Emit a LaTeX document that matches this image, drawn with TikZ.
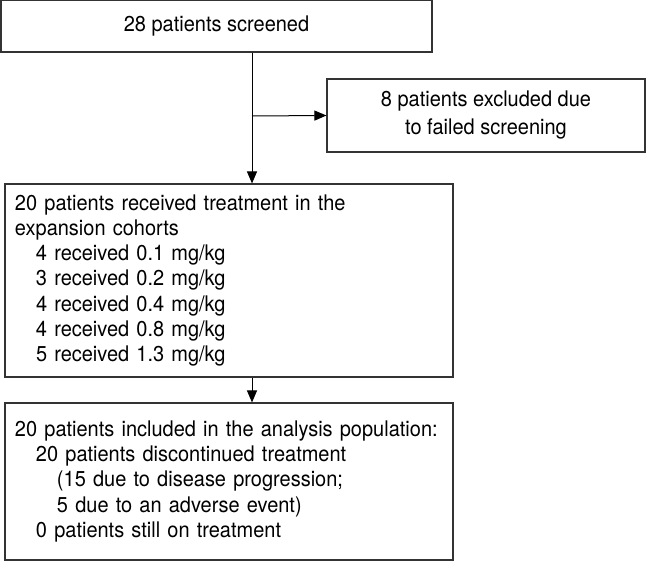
\documentclass[tikz,border=0pt]{standalone}
\usepackage{fontspec}
\setmainfont[FakeStretch=0.93]{TeX Gyre Heros}
\usetikzlibrary{arrows.meta}

\begin{document}
\begin{tikzpicture}[x=1pt,y=1pt,
        box/.style={draw=black!80, line width=1.1pt, inner xsep=10pt, inner ysep=0pt,
            font=\fontsize{21.5}{25.3}\selectfont},
        flow/.style={draw=black, line width=1pt, -{Triangle[length=12pt,width=10pt]}}]
        \useasboundingbox (0,0) rectangle (646,-561);

        \node[box, minimum width=431pt, minimum height=52pt] (screened) at (216.5,-26) {28 patients screened};
        \node[box, minimum width=318pt, minimum height=73pt, align=center,
            font=\fontsize{21.5}{28}\selectfont] (excluded) at (486,-115.5)
            {8 patients excluded due\\to failed screening};
        \node[box, minimum width=448pt, minimum height=193pt, text width=428pt, align=left] (treated) at (229,-280.5)
            {20 patients received treatment in the\\
             expansion cohorts\\
             \hspace*{21pt}4 received 0.1 mg/kg\\
             \hspace*{21pt}3 received 0.2 mg/kg\\
             \hspace*{21pt}4 received 0.4 mg/kg\\
             \hspace*{21pt}4 received 0.8 mg/kg\\
             \hspace*{21pt}5 received 1.3 mg/kg};
        \node[box, minimum width=448pt, minimum height=157pt, text width=428pt, align=left] (analysed) at (229,-481.5)
            {20 patients included in the analysis population:\\
             \hspace*{21pt}20 patients discontinued treatment\\
             \hspace*{42pt}(15 due to disease progression;\\
             \hspace*{42pt}5 due to an adverse event)\\
             \hspace*{21pt}0 patients still on treatment};

        \coordinate (split) at (252,-116);

        \draw[flow] (split |- screened.south) -- (split |- treated.north);
        \draw[flow] (split) -- (excluded.west);
        \draw[flow] (split |- treated.south) -- (split |- analysed.north);
    \end{tikzpicture}
\end{document}
